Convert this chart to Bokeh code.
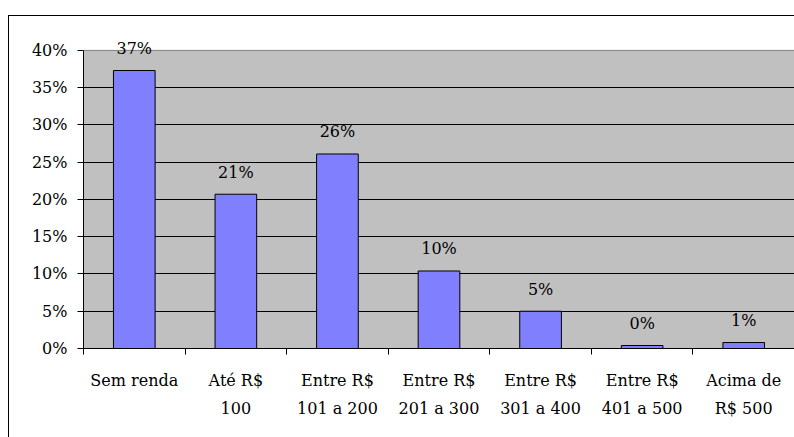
from bokeh.plotting import figure
from bokeh.models import Label, FixedTicker, NumeralTickFormatter, Range1d, BoxAnnotation
from bokeh.embed import file_html
from bokeh.resources import INLINE

categories = ["Sem renda", "Até R$\n100", "Entre R$\n101 a 200", "Entre R$\n201 a 300",
              "Entre R$\n301 a 400", "Entre R$\n401 a 500", "Acima de\nR$ 500"]
values = [0.373, 0.207, 0.261, 0.104, 0.050, 0.004, 0.008]
value_labels = ["37%", "21%", "26%", "10%", "5%", "0%", "1%"]
y_ticks = [0, 0.05, 0.10, 0.15, 0.20, 0.25, 0.30, 0.35, 0.40]
y_max = 0.40

positions = [i + 0.5 for i in range(len(categories))]

FONT = "DejaVu Serif"

# y range extends a bit above 40% so the top value label is not clipped
p = figure(width=786, height=422, output_backend="svg", toolbar_location=None,
           x_range=Range1d(0, len(categories)), y_range=Range1d(0, 0.42))
p.min_border = 0
p.min_border_left = 74
p.min_border_right = 1
p.min_border_top = 19
p.min_border_bottom = 90
p.styles = {"border-top": "1px solid black", "border-left": "1px solid black",
            "margin-top": "15px", "margin-left": "8px"}
p.border_fill_color = "white"
p.background_fill_color = "white"
p.outline_line_color = None

# plot area (gray) limited to 0..40%
p.add_layout(BoxAnnotation(left=0, right=len(categories), bottom=0, top=y_max,
                           fill_color="#C0C0C0", fill_alpha=1.0,
                           line_color="#808080", line_alpha=1.0, line_width=1,
                           level="image"))

p.vbar(x=positions, top=values, width=0.41, bottom=0,
       fill_color="#8080FF", line_color="black", line_width=1)

for xp, v, lab in zip(positions, values, value_labels):
    p.add_layout(Label(x=xp, y=v, text=lab, text_align="center",
                       text_baseline="alphabetic", y_offset=22, text_font=FONT,
                       text_font_size="16px", text_color="black"))

# grid
p.xgrid.grid_line_color = None
p.ygrid.grid_line_color = "black"
p.ygrid.grid_line_width = 1
p.ygrid.ticker = FixedTicker(ticks=[t for t in y_ticks if t < y_max])

# y axis
p.yaxis.ticker = FixedTicker(ticks=y_ticks)
p.yaxis.bounds = (0, y_max)
p.yaxis.formatter = NumeralTickFormatter(format="0%")
p.yaxis.major_tick_out = 6
p.yaxis.major_tick_in = 0
p.yaxis.minor_tick_line_color = None
p.yaxis.axis_line_color = "black"
p.yaxis.major_tick_line_color = "black"
p.yaxis.major_label_standoff = 10
p.yaxis.major_label_text_font = FONT
p.yaxis.major_label_text_font_size = "16px"
p.yaxis.major_label_text_color = "black"

# x axis
p.xaxis.ticker = FixedTicker(ticks=positions, minor_ticks=list(range(len(categories) + 1)))
p.xaxis.major_label_overrides = {pos: cat for pos, cat in zip(positions, categories)}
p.xaxis.major_tick_out = 0
p.xaxis.major_tick_in = 0
p.xaxis.minor_tick_out = 6
p.xaxis.minor_tick_in = 0
p.xaxis.minor_tick_line_color = "black"
p.xaxis.axis_line_color = "black"
p.xaxis.major_label_standoff = 16
p.xaxis.major_label_text_font = FONT
p.xaxis.major_label_text_font_size = "16px"
p.xaxis.major_label_text_color = "black"
p.xaxis.major_label_text_line_height = 1.5

open("out.html", "w").write(file_html(p, INLINE))
